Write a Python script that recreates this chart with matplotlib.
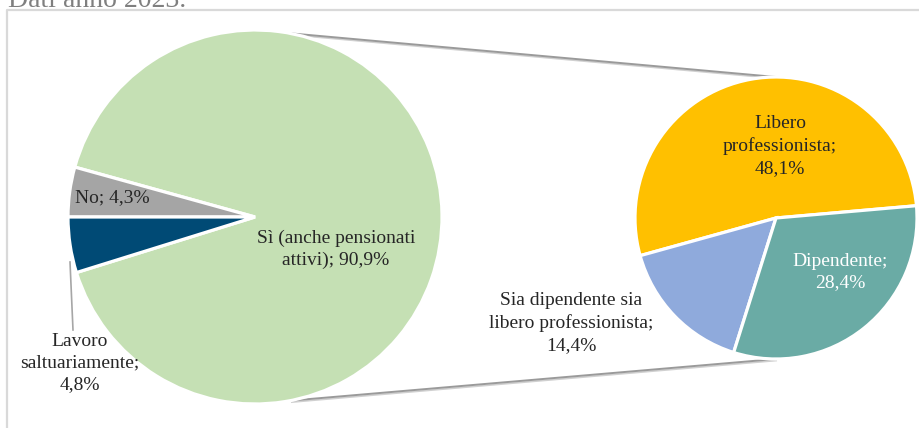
import numpy as np
import matplotlib
matplotlib.use("Agg")
import matplotlib.pyplot as plt

plt.rcParams["font.family"] = ["Liberation Serif", "DejaVu Serif"]

# Main pie: working status
main_labels = ["Sì (anche pensionati\nattivi)", "No", "Lavoro\nsaltuariamente"]
main_values = [90.9, 4.3, 4.8]
main_colors = ["#C5E0B4", "#A5A5A5", "#004A75"]

# Secondary pie: breakdown of "Sì"
sub_labels = ["Libero\nprofessionista", "Sia dipendente sia\nlibero professionista", "Dipendente"]
sub_values = [48.1, 14.4, 28.4]
sub_colors = ["#FFC000", "#8FAADC", "#6AABA5"]

title = "Dati anno 2023."

W, H = 919, 428
fig = plt.figure(figsize=(W / 100, H / 100), dpi=100)
ax = fig.add_axes([0, 0, 1, 1])

def fmt(v):
    return f"{v:.1f}".replace(".", ",") + "%"

# geometry (pixel space, y up)
c1, r1 = (255, 211), 187
c2, r2 = (776, 210), 141

wedge_kw = dict(edgecolor="white", linewidth=2.3)

start1 = 180 + main_values[2] * 3.6
ax.pie(main_values, colors=main_colors, center=c1, radius=r1,
       startangle=start1, counterclock=True, frame=True, wedgeprops=wedge_kw)

ax.pie(sub_values, colors=sub_colors, center=c2, radius=r2,
       startangle=5, counterclock=True, frame=True, wedgeprops=wedge_kw)

# connector lines between the two pies
ang = np.degrees(np.arccos(35 / r1))
for sgn in (1, -1):
    x0 = c1[0] + r1 * np.cos(np.radians(ang))
    y0 = c1[1] + sgn * r1 * np.sin(np.radians(ang))
    x1, y1 = c2[0], c2[1] + sgn * r2
    ax.plot([x0 + 1, x1 + 1], [y0 - 1.5, y1 - 1.5], color="#D0D0D0", lw=1.2,
            solid_capstyle="butt", zorder=0)
    ax.plot([x0, x1], [y0, y1], color="#9A9A9A", lw=1.4,
            solid_capstyle="butt", zorder=0)

txt = dict(fontsize=14, color="#262626", ha="center", va="center",
           linespacing=1.35)

ax.text(336, 428 - 249, f"{main_labels[0]}; {fmt(main_values[0])}", **txt)
ax.text(112, 428 - 198, f"{main_labels[1]}; {fmt(main_values[1])}", **txt)
ax.text(80, 428 - 363, f"{main_labels[2]};\n{fmt(main_values[2])}", **txt)
ax.plot([70, 73], [428 - 262, 428 - 330], color="#A6A6A6", lw=1.2, zorder=0)

ax.text(780, 428 - 146, f"{sub_labels[0]};\n{fmt(sub_values[0])}", **txt)
ax.text(571, 428 - 323, f"{sub_labels[1]};\n{fmt(sub_values[1])}", **txt)
txt_w = dict(txt, color="white")
ax.text(840, 428 - 272, f"{sub_labels[2]};\n{fmt(sub_values[2])}", **txt_w)

# chart frame and clipped heading
ax.plot([7, 7, W + 5], [-5, 428 - 9.5, 428 - 9.5], color="#D9D9D9", lw=1.6,
        zorder=0)
ax.text(8, 428 - 7, title, fontsize=20, color="#7F7F7F", ha="left",
        va="baseline")

ax.set_xlim(0, W)
ax.set_ylim(0, H)
ax.set_aspect("equal")
ax.axis("off")

fig.savefig("out.png", dpi=100)
